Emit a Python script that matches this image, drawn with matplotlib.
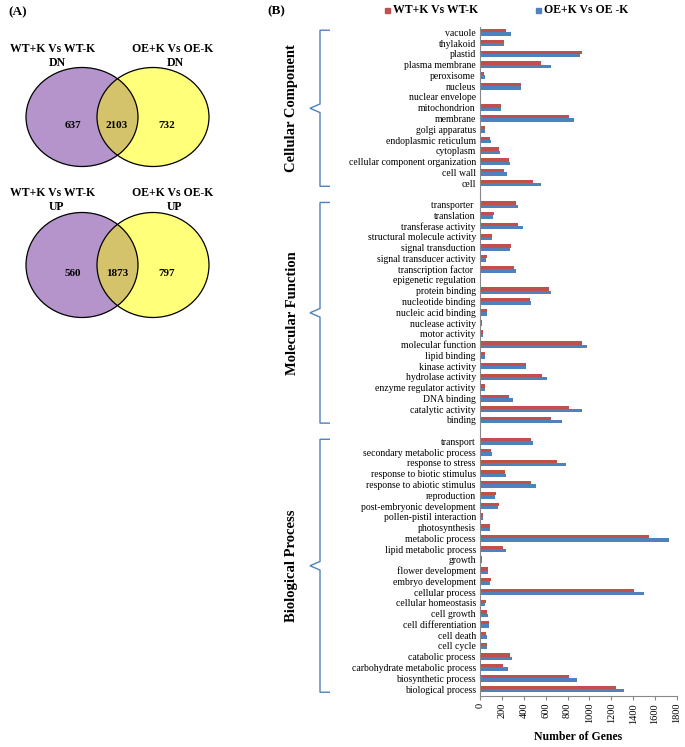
import matplotlib
matplotlib.use("Agg")
import matplotlib.pyplot as plt
from matplotlib.patches import Ellipse
from matplotlib.path import Path
from matplotlib.patches import PathPatch
import matplotlib.transforms as mtransforms

plt.rcParams['font.family'] = ['Liberation Serif', 'DejaVu Serif']

# ---- data (listed top to bottom as in the figure) ----
cc_terms = ["vacuole", "thylakoid", "plastid", "plasma membrane", "peroxisome",
            "nucleus", "nuclear envelope", "mitochondrion", "membrane",
            "golgi apparatus", "endoplasmic reticulum", "cytoplasm",
            "cellular component organization", "cell wall", "cell"]
cc_wt = [238, 220, 930, 558, 37, 375, 3, 195, 817, 46, 88, 177, 265, 217, 488]
cc_oe = [284, 220, 918, 647, 46, 375, 2, 195, 857, 46, 100, 186, 271, 247, 561]

mf_terms = ["transporter ", "translation", "transferase activity",
            "structural molecule activity", "signal transduction",
            "signal transducer activity", "transcription factor ",
            "epigenetic regulation", "protein binding", "nucleotide binding",
            "nucleic acid binding", "nuclease activity", "motor activity",
            "molecular function", "lipid binding", "kinase activity",
            "hydrolase activity", "enzyme regulator activity", "DNA binding",
            "catalytic activity", "binding"]
mf_wt = [326, 131, 345, 113, 281, 61, 308, 12, 631, 454, 67, 18, 24, 930, 46,
         418, 564, 49, 268, 817, 647]
mf_oe = [345, 116, 390, 113, 271, 55, 332, 3, 647, 470, 67, 21, 30, 976, 49,
         421, 613, 49, 299, 930, 747]

bp_terms = ["transport", "secondary metabolic process", "response to stress",
            "response to biotic stimulus", "response to abiotic stimulus",
            "reproduction", "post-embryonic development",
            "pollen-pistil interaction", "photosynthesis", "metabolic process",
            "lipid metabolic process", "growth", "flower development",
            "embryo development", "cellular process", "cellular homeostasis",
            "cell growth", "cell differentiation", "cell death", "cell cycle",
            "catabolic process", "carbohydrate metabolic process",
            "biosynthetic process", "biological process"]
bp_wt = [464, 100, 701, 226, 470, 143, 174, 27, 88, 1546, 210, 21, 73, 98,
         1403, 52, 64, 79, 58, 61, 278, 213, 814, 1244]
bp_oe = [482, 110, 790, 235, 512, 134, 165, 30, 88, 1723, 235, 21, 73, 88,
         1498, 46, 76, 79, 61, 61, 290, 253, 888, 1318]

groups = ["Cellular Component", "Molecular Function", "Biological Process"]
venn_titles = ["WT+K Vs WT-K", "OE+K Vs OE-K"]
venn_dn = [637, 2103, 732]
venn_up = [560, 1873, 797]
series_names = ["WT+K Vs WT-K", "OE+K Vs OE -K"]

RED = "#C0504D"
BLUE = "#4F81BD"
W, H = 685, 747

fig = plt.figure(figsize=(6.85, 7.47), dpi=100)

# ---- bar chart ----
ax = fig.add_axes([480 / W, 1 - 696 / H, 197 / W, 669 / H])

group_terms = [cc_terms, mf_terms, bp_terms]
group_wt = [cc_wt, mf_wt, bp_wt]
group_oe = [cc_oe, mf_oe, bp_oe]

total_rows = sum(len(t) for t in group_terms) + len(group_terms) - 1
labels, ypos, wt_all, oe_all = [], [], [], []
spans = []
row = total_rows - 1
for terms, wt, oe in zip(group_terms, group_wt, group_oe):
    start = row
    for t, a, b in zip(terms, wt, oe):
        labels.append(t)
        ypos.append(row)
        wt_all.append(a)
        oe_all.append(b)
        row -= 1
    spans.append((start, row + 1))
    row -= 1  # blank slot between groups

bh = 0.31
ax.barh([y + bh / 2 for y in ypos], wt_all, height=bh, color=RED,
        label=series_names[0])
ax.barh([y - bh / 2 for y in ypos], oe_all, height=bh, color=BLUE,
        label=series_names[1])

ax.set_xlim(0, 1800)
ax.set_ylim(-0.65, total_rows - 0.5)
ax.set_xticks(range(0, 1801, 200))
ax.set_xticklabels([str(v) for v in range(0, 1801, 200)], rotation=90,
                   fontsize=7.5)
ax.set_yticks(ypos)
ax.set_yticklabels(labels, fontsize=7)
ax.tick_params(axis='y', length=0, pad=3)
ax.tick_params(axis='x', length=3, color="#888888", pad=2)
for s in ["top", "right"]:
    ax.spines[s].set_visible(False)
ax.spines["left"].set_color("#888888")
ax.spines["bottom"].set_color("#888888")
ax.set_xlabel("Number of Genes", fontsize=8.5, fontweight="bold", labelpad=5)

# braces and group titles
trans = mtransforms.blended_transform_factory(fig.transFigure, ax.transData)
bx = 320 / W
hook = 10 / W
tipw = 10 / W
for name, (top, bot) in zip(groups, spans):
    y1 = top + 0.2
    y0 = bot - 0.3
    ym = (y0 + y1) / 2
    verts = [(bx + hook, y1), (bx, y1), (bx, ym + 0.4), (bx - tipw, ym),
             (bx, ym - 0.4), (bx, y0), (bx + hook, y0)]
    p = Path(verts)
    ax.add_patch(PathPatch(p, fill=False, edgecolor=BLUE, lw=1.0,
                           transform=trans, clip_on=False))
    fig.text(292 / W, ym, name, rotation=90, ha="center", va="center",
             fontsize=10.5, fontweight="bold", transform=trans)

# legend
fig.text(267 / W, 1 - 11 / H, "(B)", fontsize=9.5, fontweight="bold",
         ha="left", va="center")
for i, (c, x) in enumerate(zip([RED, BLUE], [385, 536])):
    fig.patches.append(plt.Rectangle((x / W, 1 - 13 / H), 5 / W, 5 / H,
                                     color=c, transform=fig.transFigure,
                                     figure=fig))
    fig.text((x + 8) / W, 1 - 10 / H, series_names[i], fontsize=8.5,
             fontweight="bold", ha="left", va="center")

# ---- Venn diagrams ----
vax = fig.add_axes([0, 0, 1, 1])
vax.set_xlim(0, W)
vax.set_ylim(H, 0)
vax.axis("off")
vax.patch.set_alpha(0)

PURPLE = "#B594CC"
YELLOW = "#FFFF7A"
OLIVE = "#D4C36B"


def venn(cy, h, counts, sub):
    left = Ellipse((82, cy), 112, h, facecolor=PURPLE, edgecolor="none")
    right = Ellipse((153, cy), 112, h, facecolor=YELLOW, edgecolor="none")
    vax.add_patch(left)
    vax.add_patch(right)
    mid = Ellipse((82, cy), 112, h, facecolor=OLIVE, edgecolor="none")
    vax.add_patch(mid)
    mid.set_clip_path(right)
    for cx in (82, 153):
        vax.add_patch(Ellipse((cx, cy), 112, h, facecolor="none",
                              edgecolor="black", lw=0.9))
    for x, n in zip((73, 117, 167), counts):
        vax.text(x, cy + 8, str(n), fontsize=8, fontweight="bold",
                 ha="center", va="center")
    ty = cy - h / 2
    vax.text(53, ty - 19, venn_titles[0], fontsize=8.5, fontweight="bold",
             ha="center", va="center")
    vax.text(57, ty - 5, sub, fontsize=8.5, fontweight="bold",
             ha="center", va="center")
    vax.text(173, ty - 19, venn_titles[1], fontsize=8.5, fontweight="bold",
             ha="center", va="center")
    vax.text(175, ty - 5, sub, fontsize=8.5, fontweight="bold",
             ha="center", va="center")


venn(117, 99, venn_dn, "DN")
venn(265, 105, venn_up, "UP")
vax.text(8, 12, "(A)", fontsize=9.5, fontweight="bold", ha="left",
         va="center")

fig.savefig("out.png", dpi=100)
